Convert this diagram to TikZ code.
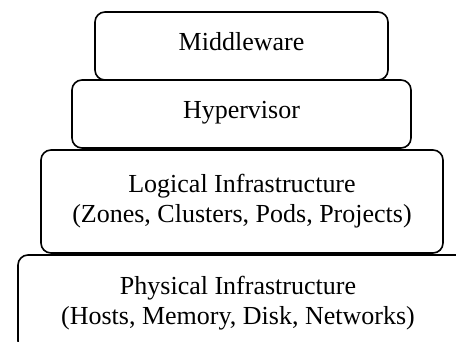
\documentclass[tikz,border=0pt]{standalone}
\usepackage{fontspec}
\setmainfont{Liberation Serif}
\begin{document}
\begin{tikzpicture}[x=1pt,y=1pt,
  layer/.style={draw=black, line width=1.6pt, rounded corners=10pt, inner sep=0pt,
    align=center, font=\fontsize{26}{30}\selectfont},
  oneline/.style={text height=14pt, text depth=6pt}]
\useasboundingbox (0,0) rectangle (456,-341);
\clip (0,0) rectangle (456,-341);
\node[layer, minimum width=452, minimum height=96] (phys) at (244,-303)
  {Physical Infrastructure\hspace*{12pt}\\(Hosts, Memory, Disk, Networks)\hspace*{12pt}};
\node[layer, minimum width=402, minimum height=103] (logi) at (242,-201.5)
  {Logical Infrastructure\\(Zones, Clusters, Pods, Projects)};
\node[layer, oneline, minimum width=339, minimum height=68] (hyp) at (241.5,-114) {Hypervisor};
\node[layer, oneline, minimum width=293, minimum height=68] (mid) at (241.5,-46) {Middleware};
\end{tikzpicture}
\end{document}
